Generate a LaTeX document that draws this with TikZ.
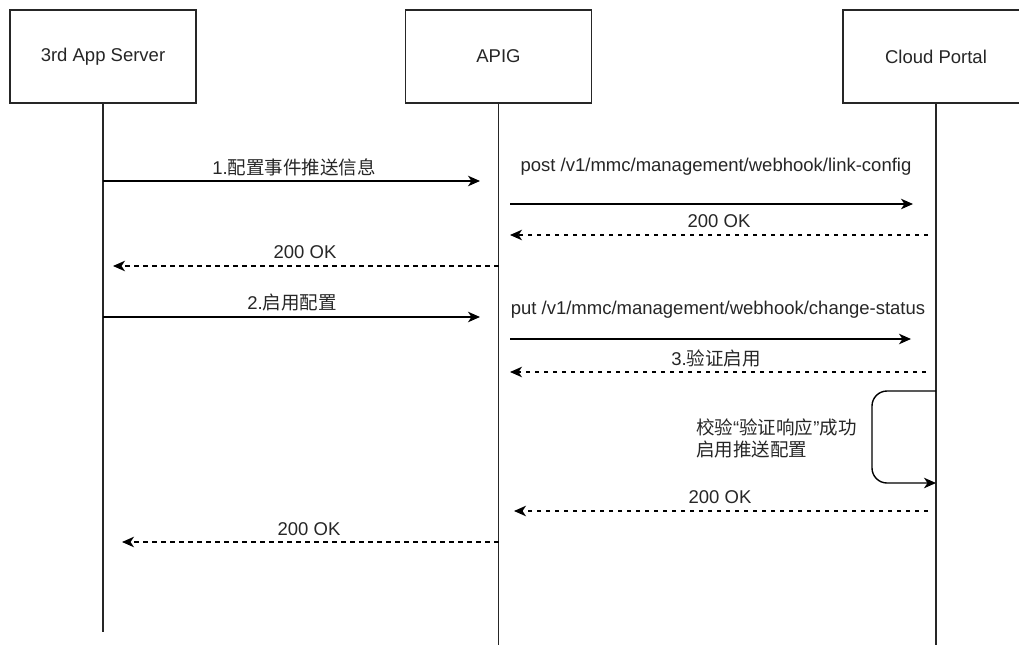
\documentclass[tikz,border=0pt]{standalone}
\usepackage{fontspec}
\setmainfont{Liberation Sans}
\newfontfamily\cjk{Noto Sans CJK SC}
\usepackage{tikz}
\usetikzlibrary{arrows.meta,positioning}

\begin{document}
\begin{tikzpicture}[x=1pt, y=-1pt, >={Stealth[length=12pt,width=10.5pt,inset=3.5pt]},
    font=\fontsize{18.5}{22}\selectfont, text=black!85,
    actor/.style={draw=black!85, line width=1.4pt, minimum width=186pt, minimum height=93pt, inner sep=0pt},
    life/.style={line width=1.4pt, black!85},
    msg/.style={->, line width=1.4pt},
    reply/.style={->, line width=1.4pt, dash pattern=on 4.5pt off 4.5pt},
    lbl/.style={inner sep=0pt}]
  \useasboundingbox (0,0) rectangle (1019,645);
  \clip (0,0) rectangle (1019,645);
  % participants
  \node[actor] (srv)   at (103,56.5)   {3rd App Server};
  \node[actor] (gw)    at (498.5,56.5) {APIG};
  \node[actor] (cloud) at (936,56.5)   {Cloud Portal};
  \coordinate (srvEnd)   at (103,632);
  \coordinate (gwEnd)    at (498.5,645);
  \coordinate (cloudEnd) at (936,645);
  \draw[life] (srv) -- (srvEnd);
  \draw[life] (gw) -- (gwEnd);
  \draw[life] (cloud) -- (cloudEnd);

  % configuration
  \draw[msg, shorten >=18.5pt] (srv |- 0,181) -- (gw |- 0,181);
  \node[lbl] (m1) at (294,167) {1.\cjk 配置事件推送信息};
  \draw[msg, shorten <=11.5pt, shorten >=23pt] (gw |- 0,204) -- (cloud |- 0,204);
  \node[lbl] (m2) at (716,167) {post /v1/mmc/management/webhook/link-config};
  \draw[reply, shorten <=8pt, shorten >=11.5pt] (cloud |- 0,235) -- (gw |- 0,235);
  \node[lbl] (m3) at (719,221) {200 OK};
  \draw[reply, shorten >=10pt] (gw |- 0,266) -- (srv |- 0,266);
  \node[lbl] (m4) at (305,252) {200 OK};

  % enable
  \draw[msg, shorten >=18.5pt] (srv |- 0,317) -- (gw |- 0,317);
  \node[lbl] (m5) at (292,303) {2.\cjk 启用配置};
  \draw[msg, shorten <=11.5pt, shorten >=25pt] (gw |- 0,339) -- (cloud |- 0,339);
  \node[lbl] (m6) at (718,310) {put /v1/mmc/management/webhook/change-status};
  \draw[reply, shorten <=10pt, shorten >=11.5pt] (cloud |- 0,372) -- (gw |- 0,372);
  \node[lbl] (m7) at (716,358) {3.\cjk 验证启用};

  % self check on cloud portal
  \coordinate (loopx) at (872,0);
  \draw[msg, rounded corners=15pt] (cloud |- 0,391) -| (loopx |- 0,483) -- (cloud |- 0,483);
  \node[lbl, anchor=west, align=left] (chk) at (696,438)
    {{\cjk 校验}“{\cjk 验证响应}”{\cjk 成功}\\{\cjk 启用推送配置}};

  \draw[reply, shorten <=8pt, shorten >=15.5pt] (cloud |- 0,511) -- (gw |- 0,511);
  \node[lbl] (m8) at (720,497) {200 OK};
  \draw[reply, shorten >=19pt] (gw |- 0,542) -- (srv |- 0,542);
  \node[lbl] (m9) at (309,529) {200 OK};
\end{tikzpicture}
\end{document}
